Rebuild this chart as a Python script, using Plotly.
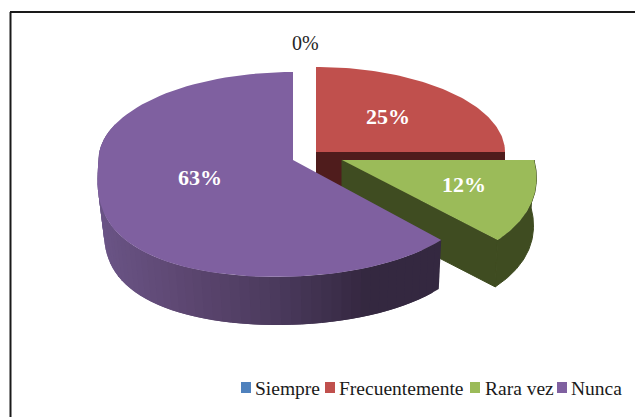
import numpy as np
import plotly.graph_objects as go

categories = ["Siempre", "Frecuentemente", "Rara vez", "Nunca"]
values = [0, 25, 12, 63]
labels = ["0%", "25%", "12%", "63%"]
colors = ["#4f81bd", "#c0504d", "#9bbb59", "#7f60a0"]
wall_colors = [None, "#4f1c1c", "#3f4c21", None]

# layout of the exploded slices in pixels: apex x, apex y, radius x, x growth, shear, back radius y
geometry = [
    (305, 152, 189, 0.0, 0, 85),
    (316, 152, 189, 0.0, 0, 85),
    (342, 160, 192, 0.163, 0, 86),
    (293, 160, 194.5, 0.2, 17, 88),
]
ry_front = 117
label_pos = [(305, 43), (388, 116), (464, 184), (200, 177)]
legend_swatch_x = [241, 325, 470, 557]
legend_text_x = [253, 337, 483, 569]
legend_y = 388
wall_stops_x = [97, 190, 280, 365, 640]
wall_stops_rgb = [(107, 85, 135), (92, 70, 112), (74, 58, 92), (53, 40, 65), (51, 41, 64)]


def rim(geo, a0, a1, n=80, dy=0.0, dx=0.0, scale=1.0, power=1.0):
    cx, cy, rx, k, s, ry_back = geo
    th = np.radians(np.linspace(a0, a1, n))
    c = np.cos(th)
    t = np.where(c < 0, -c, 0.0) ** power
    ry = np.where(c < 0, ry_front, ry_back)
    x = cx - s * t + rx * scale * np.sin(th) * (1 + k * t) + dx
    y = cy - ry * scale * c + dy
    return x, y


fig = go.Figure()


def poly(x, y, color, width=0.0):
    fig.add_trace(go.Scatter(
        x=list(x) + [x[0]], y=list(y) + [y[0]], mode="lines", fill="toself",
        fillcolor=color, line=dict(color=color, width=width),
        showlegend=False, hoverinfo="skip"))


edges = 3.6 * np.cumsum([0] + values)
spans = [(edges[i], edges[i + 1]) for i in range(len(values))]

# Frecuentemente: dark inner wall, then top face
a0, a1 = spans[1]
g = geometry[1]
xr, yr = rim(g, a0, a1)
poly([g[0], xr[-1], xr[-1], g[0]], [g[1], g[1], g[1] + 48, g[1] + 48], wall_colors[1])
poly([g[0], *xr], [g[1], *yr], colors[1])

# Rara vez: walls, then top face
a0, a1 = spans[2]
g = geometry[2]
xr, yr = rim(g, a0, a1)
xb, yb = rim(g, a0, a1, dy=48, scale=0.985)
poly([g[0], xr[-1], xb[-1], g[0]], [g[1], yr[-1], yb[-1], g[1] + 48], wall_colors[2], 1)
poly([*xr, *xb[::-1]], [*yr, *yb[::-1]], wall_colors[2], 1)
poly([g[0], *xr], [g[1], *yr], colors[2])

# Nunca: shaded outer wall, then top face
a0, a1 = spans[3]
g = geometry[3]
n = 90
xr, yr = rim(g, a0, a1, n=n, power=1.5)
xb, yb = rim(g, a0, a1, n=n, dy=51, dx=1.5, scale=0.975, power=1.5)
for i in range(n - 2):
    if a0 + (a1 - a0) * i / (n - 1) > 290:
        break
    xm = (xr[i] + xr[i + 1]) / 2
    rgb = [int(np.interp(xm, wall_stops_x, [c[j] for c in wall_stops_rgb])) for j in range(3)]
    j = i + 2
    poly([xr[i], xr[j], xb[j], xb[i]], [yr[i], yr[j], yb[j], yb[i]], "rgb(%d,%d,%d)" % tuple(rgb))
poly([g[0], *xr], [g[1], *yr], colors[3])

serif = "Liberation Serif"
for i, txt in enumerate(labels):
    zero = values[i] == 0
    fig.add_annotation(
        x=label_pos[i][0], y=label_pos[i][1], text=("%s" if zero else "<b>%s</b>") % txt,
        showarrow=False,
        font=dict(family=serif, size=20 if zero else 22, color="#262626" if zero else "white"))

for i, name in enumerate(categories):
    fig.add_shape(type="rect", x0=legend_swatch_x[i], x1=legend_swatch_x[i] + 10,
                  y0=legend_y - 6, y1=legend_y + 5, fillcolor=colors[i], line_width=0)
    fig.add_annotation(x=legend_text_x[i], y=legend_y, text=name, showarrow=False, xanchor="left",
                       font=dict(family=serif, size=19.5, color="#1a1a1a"))

# frame
fig.add_shape(type="line", x0=10.5, x1=10.5, y0=12, y1=417, line=dict(color="#1a1a1a", width=2))
fig.add_shape(type="line", x0=10, x1=635, y0=12, y1=12, line=dict(color="#1a1a1a", width=2))

fig.update_layout(
    width=635, height=417, autosize=False, margin=dict(l=0, r=0, t=0, b=0),
    paper_bgcolor="white", plot_bgcolor="white", showlegend=False,
    xaxis=dict(range=[0, 635], visible=False, fixedrange=True),
    yaxis=dict(range=[417, 0], visible=False, fixedrange=True),
)
fig.write_html("out.html", config={"displayModeBar": False},
               post_script="document.body.style.margin='0';document.body.style.overflow='hidden';")
